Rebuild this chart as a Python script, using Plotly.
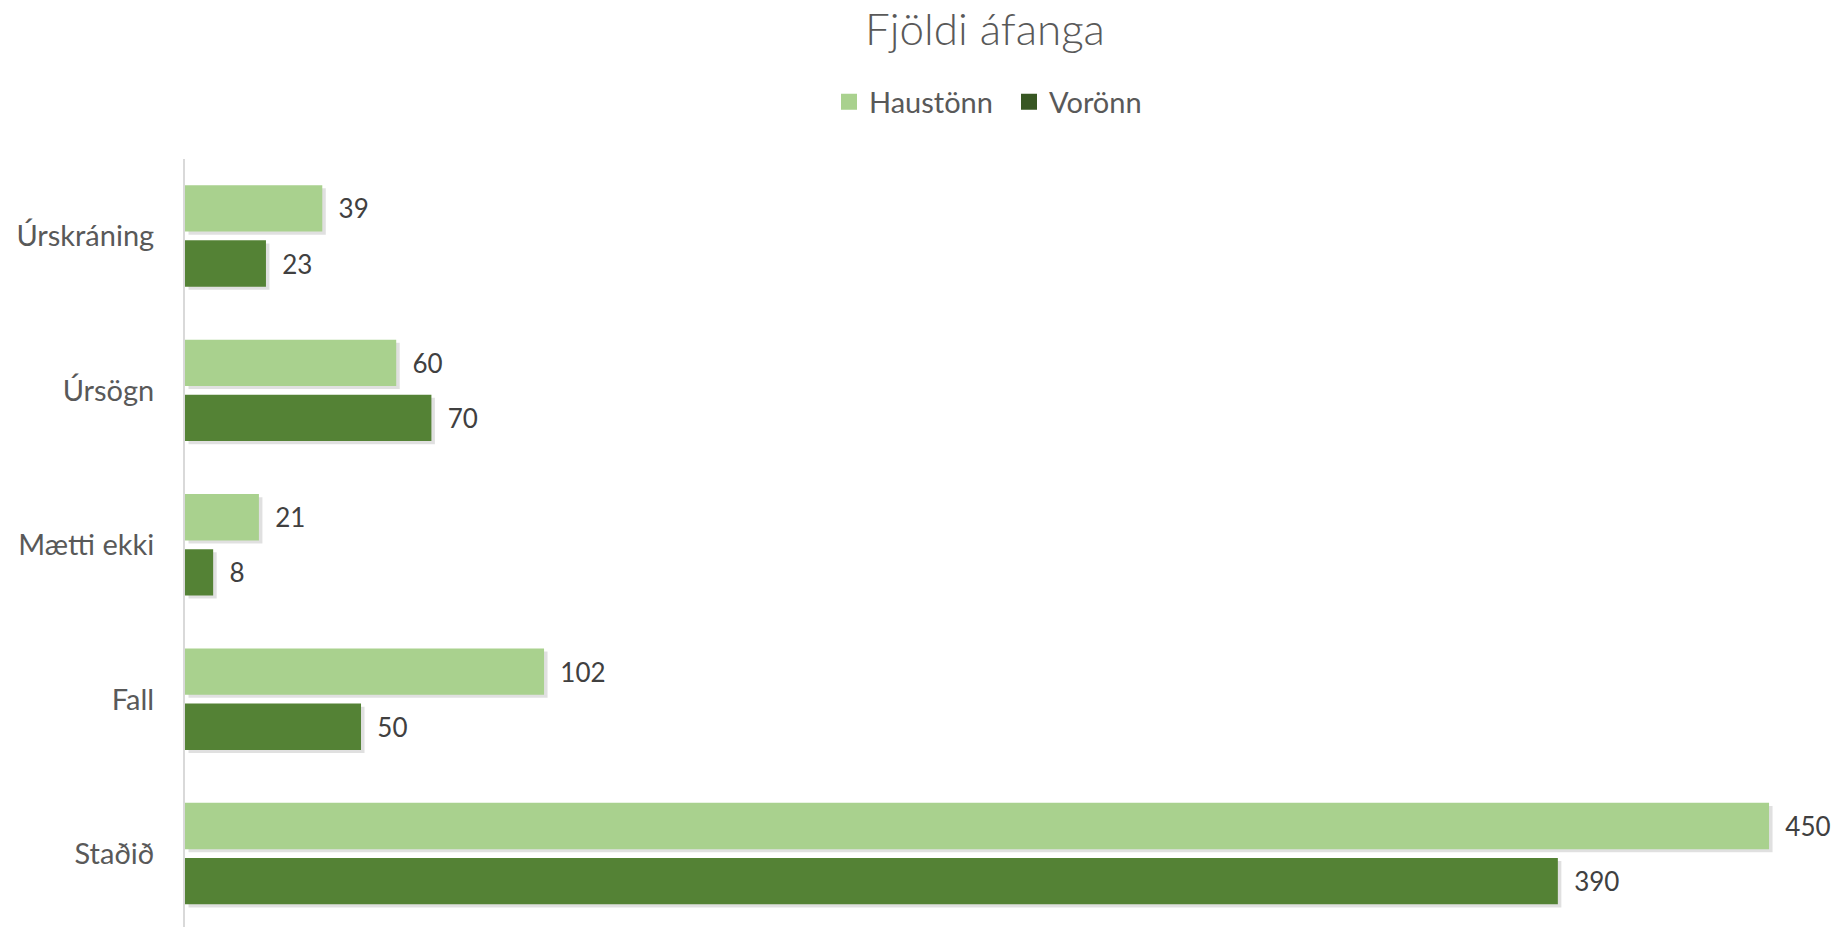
import plotly.graph_objects as go

categories = ["Úrskráning", "Úrsögn", "Mætti ekki", "Fall", "Staðið"]
haust = [39, 60, 21, 102, 450]
vor = [23, 70, 8, 50, 390]
series_names = ["Haustönn", "Vorönn"]

C_HAUST = "#A9D18E"
C_VOR = "#548235"
C_VOR_LEG = "#385723"
TXT = "#595959"
FONT = "Lato"

fig = go.Figure()

# soft drop shadows
for vals, off in [(haust, -0.33), (vor, 0.027)]:
    fig.add_trace(go.Bar(
        y=categories, x=vals, orientation="h", base=1.0,
        offset=off + 0.02, width=0.30,
        marker=dict(color="rgba(0,0,0,0.12)", line=dict(width=0)),
        showlegend=False, hoverinfo="skip"))

for name, vals, col, off in [(series_names[0], haust, C_HAUST, -0.33),
                             (series_names[1], vor, C_VOR, 0.027)]:
    fig.add_trace(go.Bar(
        y=categories, x=vals, orientation="h", name=name,
        offset=off, width=0.30,
        marker=dict(color=col, line=dict(width=0)),
        text=["  " + str(v) for v in vals], textposition="outside",
        textfont=dict(family=FONT, size=26, color="#404040"),
        cliponaxis=False, showlegend=False))

# legend entries
for name, col in [(series_names[0], C_HAUST), (series_names[1], C_VOR_LEG)]:
    fig.add_trace(go.Scatter(
        x=[None], y=[None], mode="markers", name=name,
        marker=dict(symbol="square", size=16, color=col)))

fig.update_layout(
    width=1842, height=927,
    barmode="overlay",
    paper_bgcolor="white", plot_bgcolor="white",
    margin=dict(l=185, r=30, t=159, b=0),
    title=dict(text="Fjöldi áfanga", x=985 / 1842, xref="container", xanchor="center",
               y=1 - 30 / 927, yref="container", yanchor="middle",
               font=dict(family=FONT, size=44, color=TXT, weight=300)),
    legend=dict(orientation="h", x=1009 / 1842, xref="container", xanchor="center",
                y=1 - 102 / 927, yref="container", yanchor="middle",
                font=dict(family=FONT, size=29, color=TXT), itemwidth=30,
                entrywidth=135, entrywidthmode="pixels",
                traceorder="normal"),
    font=dict(family=FONT, color=TXT),
)
fig.update_xaxes(range=[0, 462.2], visible=False, showgrid=False, zeroline=False)
fig.update_yaxes(range=[4.474, -0.5], showgrid=False, zeroline=False,
                 showline=True, linecolor="#D9D9D9", linewidth=2,
                 ticks="", ticklabelstandoff=23,
                 tickfont=dict(family=FONT, size=29, color=TXT))

fig.write_html("out.html", config={"displayModeBar": False})

with open("out.html", encoding="utf-8") as f:
    html = f.read()
html = html.replace("<head>", "<head><style>html,body{margin:0;padding:0;overflow:hidden;}</style>", 1)
with open("out.html", "w", encoding="utf-8") as f:
    f.write(html)
